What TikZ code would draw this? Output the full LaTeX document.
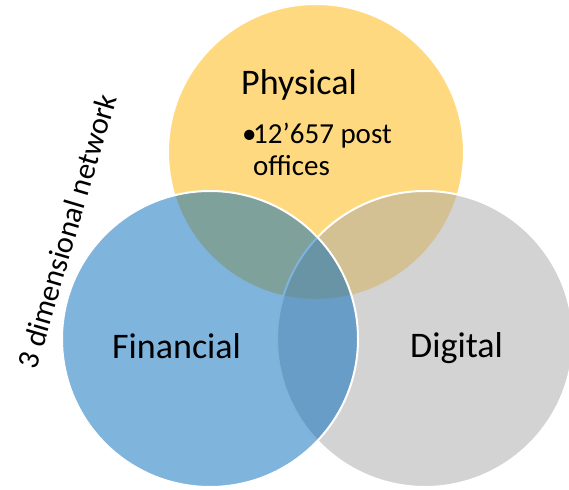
\documentclass[tikz,border=0pt]{standalone}
\usepackage{fontspec}
\setmainfont{Carlito}
\definecolor{physyellow}{RGB}{255,180,0}
\definecolor{finblue}{RGB}{0,105,187}
\definecolor{diggray}{RGB}{167,167,167}

\begin{document}
\begin{tikzpicture}[x = 1pt, y = 1pt]
\tikzstyle{SetStyle}=[shape = circle,
                      minimum size = 296pt,
                      draw = white,
                      line width = 2pt,
                      fill opacity = 0.5]
\tikzstyle{LabelStyle}=[inner sep = 0pt, anchor = base west, font = \fontsize{36}{43}\selectfont]
\tikzstyle{NoteStyle}=[inner sep = 0pt, anchor = base west, font = \fontsize{29}{32}\selectfont]
\useasboundingbox (0,0) rectangle (569,489);
\clip (0,0) rectangle (569,489);
% the three sets
\node[SetStyle, fill = physyellow] (physical) at (316,337) {};
\node[SetStyle, fill = diggray] (digital) at (425,150) {};
\node[SetStyle, fill = finblue] (financial) at (210,150) {};
% set names
\node[LabelStyle] (physname) at (241,394) {Physical};
\node[LabelStyle] (finname) at (112,130) {Financial};
\node[LabelStyle] (digname) at (410,131) {Digital};
% bullet in the top set
\node[NoteStyle] (bullet) at (242,345) {\textbullet};
\node[NoteStyle] (offices1) at (253,345) {12’657 post};
\node[NoteStyle] (offices2) at (253,313) {offices};
% side caption
\node[NoteStyle, anchor = base, rotate = 73.5, font = \fontsize{30.5}{36}\selectfont] (network) at (77,255) {3 dimensional network};
\end{tikzpicture}
\end{document}
